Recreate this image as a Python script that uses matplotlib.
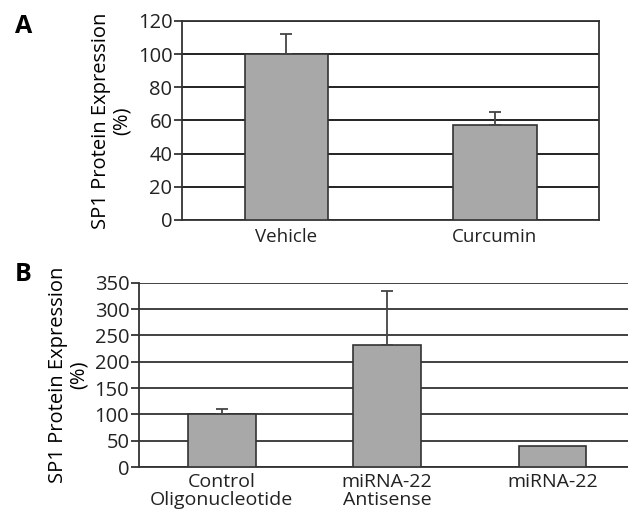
import matplotlib.pyplot as plt
import numpy as np

# --- data ---
cats_a = ["Vehicle", "Curcumin"]
vals_a = [100, 57.5]
err_a = [12, 7.5]

cats_b = ["Control\nOligonucleotide", "miRNA-22\nAntisense", "miRNA-22"]
vals_b = [100, 231, 40]
err_b = [11, 103, 0]

plt.rcParams['font.family'] = ['Open Sans', 'DejaVu Sans']

fig = plt.figure(figsize=(6.28, 5.17), dpi=100)
bar_col = "#a8a8a8"
edge_col = "#333333"


def style_axis(ax, ticks, grid_col):
    ax.set_yticks(ticks)
    ax.yaxis.grid(True, color=grid_col, linewidth=1.3)
    ax.set_axisbelow(True)
    ax.tick_params(axis="y", length=6, width=1.2, labelsize=14.5, pad=1, colors="#222222")
    ax.tick_params(axis="x", length=0, labelsize=13.5, pad=6, colors="#222222")
    for s in ax.spines.values():
        s.set_color("#333333")
        s.set_linewidth(1.3)


# --- panel A ---
ax1 = fig.add_axes([0.290, 0.5745, 0.664, 0.385])
x = np.arange(len(cats_a))
ax1.bar(x, vals_a, width=0.4, color=bar_col, edgecolor=edge_col, linewidth=1.2, zorder=3)
ax1.errorbar(x, vals_a, yerr=[np.zeros(len(err_a)), err_a], fmt="none",
             ecolor="#444444", elinewidth=1.3, capsize=4, capthick=1.3, zorder=4)
ax1.set_xlim(-0.5, 1.5)
ax1.set_ylim(0, 120)
ax1.set_xticks(x)
ax1.set_xticklabels(cats_a)
style_axis(ax1, range(0, 121, 20), "#111111")
ax1.set_ylabel("SP1 Protein Expression\n(%)", fontsize=14.5, linespacing=1.05, labelpad=4)

# --- panel B ---
ax2 = fig.add_axes([0.2213, 0.0967, 0.79, 0.3564])
x = np.arange(len(cats_b))
ax2.bar(x, vals_b, width=0.41, color=bar_col, edgecolor=edge_col, linewidth=1.2, zorder=3)
ax2.errorbar(x[:2], vals_b[:2], yerr=[np.zeros(2), err_b[:2]], fmt="none",
             ecolor="#444444", elinewidth=1.3, capsize=4, capthick=1.3, zorder=4)
ax2.set_xlim(-0.5, 2.5)
ax2.set_ylim(0, 350)
ax2.set_xticks(x)
ax2.set_xticklabels(cats_b, linespacing=1.05)
ax2.tick_params(axis="x", labelsize=14)
style_axis(ax2, range(0, 351, 50), "#333333")
ax2.tick_params(axis="x", labelsize=14, pad=4)
ax2.spines["top"].set_visible(False)
ax2.spines["right"].set_visible(False)
ax2.set_ylabel("SP1 Protein Expression\n(%)", fontsize=14.5, linespacing=1.05, labelpad=4)

fig.text(0.024, 0.948, "A", fontsize=18, fontweight="bold", va="center")
fig.text(0.024, 0.470, "B", fontsize=18, fontweight="bold", va="center")

fig.savefig("out.png", dpi=100)
